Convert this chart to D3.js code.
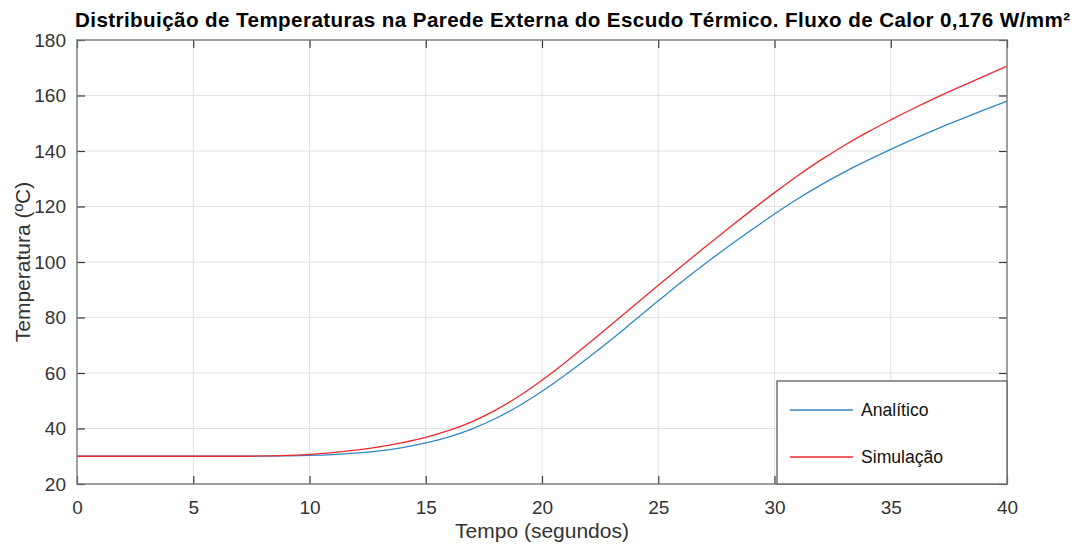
<!DOCTYPE html>
<html>
<head>
<meta charset="utf-8">
<script src="https://cdn.jsdelivr.net/npm/d3@7"></script>
<style>
  html, body { margin: 0; padding: 0; background: #fff; }
  svg { display: block; font-family: "Liberation Sans", Arial, Helvetica, sans-serif; }
</style>
</head>
<body>
<svg id="chart" width="1078" height="544"></svg>
<script>
// Time (s) and wall temperature (°C) for the two models
const tempo = [0, 1, 2, 3, 4, 5, 6, 7, 8, 9, 10, 11, 12, 13, 14, 15, 16, 17, 18, 19, 20,
               21, 22, 23, 24, 25, 26, 27, 28, 29, 30, 31, 32, 33, 34, 35, 36, 37, 38, 39, 40];
const analitico = [30, 30, 30, 30, 30, 30, 30, 30, 30.05, 30.15, 30.3, 30.6, 31.1, 31.9, 33.1, 34.8,
                   37.0, 39.9, 43.6, 48.1, 53.4, 59.3, 65.6, 72.2, 79.1, 86.0, 92.8, 99.3, 105.5,
                   111.5, 117.3, 122.8, 127.8, 132.4, 136.6, 140.6, 144.4, 148.0, 151.4, 154.7, 158.0];
const simulacao = [30, 30, 30, 30, 30, 30, 30, 30, 30.1, 30.3, 30.7, 31.3, 32.2, 33.4, 34.9, 36.8,
                   39.3, 42.5, 46.6, 51.6, 57.4, 63.8, 70.6, 77.6, 84.6, 91.6, 98.5, 105.3, 112.0,
                   118.6, 125.0, 131.1, 136.8, 142.0, 146.8, 151.2, 155.4, 159.4, 163.2, 166.9, 170.6];
const xTicks = [0, 5, 10, 15, 20, 25, 30, 35, 40];
const yTicks = [20, 40, 60, 80, 100, 120, 140, 160, 180];
const seriesNames = ["Analítico", "Simulação"];
const seriesColors = ["#2f88c4", "#ee2a30"];

const svg = d3.select("#chart");
const pLeft = 77, pRight = 1007, pTop = 40, pBottom = 484;

const x = d3.scaleLinear().domain([0, 40]).range([pLeft, pRight]);
const y = d3.scaleLinear().domain([20, 180]).range([pBottom, pTop]);

// grid
const grid = svg.append("g").attr("stroke", "#e2e2e2").attr("stroke-width", 1);
grid.selectAll("line.gx").data(xTicks.slice(1, -1)).join("line")
  .attr("x1", d => x(d)).attr("x2", d => x(d)).attr("y1", pTop).attr("y2", pBottom);
grid.selectAll("line.gy").data(yTicks.slice(1, -1)).join("line")
  .attr("x1", pLeft).attr("x2", pRight).attr("y1", d => y(d)).attr("y2", d => y(d));

// axes with inward ticks on all four sides
const tickLen = 8;
const fontTick = "19px";
const axB = svg.append("g").attr("transform", `translate(0,${pBottom})`)
  .call(d3.axisBottom(x).tickValues(xTicks).tickSizeInner(-tickLen).tickSizeOuter(0).tickPadding(17));
const axT = svg.append("g").attr("transform", `translate(0,${pTop})`)
  .call(d3.axisTop(x).tickValues(xTicks).tickSizeInner(-tickLen).tickSizeOuter(0).tickFormat(""));
const axL = svg.append("g").attr("transform", `translate(${pLeft},0)`)
  .call(d3.axisLeft(y).tickValues(yTicks).tickSizeInner(-tickLen).tickSizeOuter(0).tickPadding(11));
const axR = svg.append("g").attr("transform", `translate(${pRight},0)`)
  .call(d3.axisRight(y).tickValues(yTicks).tickSizeInner(-tickLen).tickSizeOuter(0).tickFormat(""));

[axB, axT, axL, axR].forEach(a => {
  a.select(".domain").remove();
  a.selectAll(".tick line").attr("stroke", "#3a3a3a").attr("stroke-width", 1.2);
  a.selectAll(".tick text").attr("fill", "#333").attr("font-size", fontTick)
    .attr("font-family", "'Liberation Sans', Arial, sans-serif");
});

// curves
const line = d3.line().x((d, i) => x(tempo[i])).y(d => y(d)).curve(d3.curveMonotoneX);
const plot = svg.append("g");
[analitico, simulacao].forEach((s, k) => {
  plot.append("path").datum(s).attr("d", line)
    .attr("fill", "none").attr("stroke", seriesColors[k]).attr("stroke-width", 1.3);
});

// axes box
svg.append("rect").attr("x", pLeft).attr("y", pTop).attr("width", pRight - pLeft).attr("height", pBottom - pTop)
  .attr("fill", "none").attr("stroke", "#777").attr("stroke-width", 1.4);

// legend
const lg = svg.append("g");
lg.append("rect").attr("x", 777).attr("y", 381).attr("width", pRight - 777).attr("height", pBottom - 381)
  .attr("fill", "#fff").attr("stroke", "#6a6a6a").attr("stroke-width", 1.4);
const legY = [410, 457];
seriesNames.forEach((n, k) => {
  lg.append("line").attr("x1", 790).attr("x2", 853).attr("y1", legY[k]).attr("y2", legY[k])
    .attr("stroke", seriesColors[k]).attr("stroke-width", 1.3);
  lg.append("text").attr("x", 861).attr("y", legY[k]).attr("dy", "0.35em")
    .attr("font-size", "17.6px").attr("fill", "#111").text(n);
});

// title and axis labels
svg.append("text").attr("x", 75).attr("y", 27)
  .attr("font-size", "20.6px").attr("font-weight", "bold").attr("fill", "#000")
  .attr("textLength", 995)
  .text("Distribuição de Temperaturas na Parede Externa do Escudo Térmico. Fluxo de Calor 0,176 W/mm²");

svg.append("text").attr("x", (pLeft + pRight) / 2).attr("y", 538).attr("text-anchor", "middle")
  .attr("font-size", "21px").attr("fill", "#333").text("Tempo (segundos)");

svg.append("text").attr("transform", `translate(29.5,${(pTop + pBottom) / 2}) rotate(-90)`)
  .attr("text-anchor", "middle").attr("font-size", "21px").attr("fill", "#333")
  .text("Temperatura (ºC)");
</script>
</body>
</html>
